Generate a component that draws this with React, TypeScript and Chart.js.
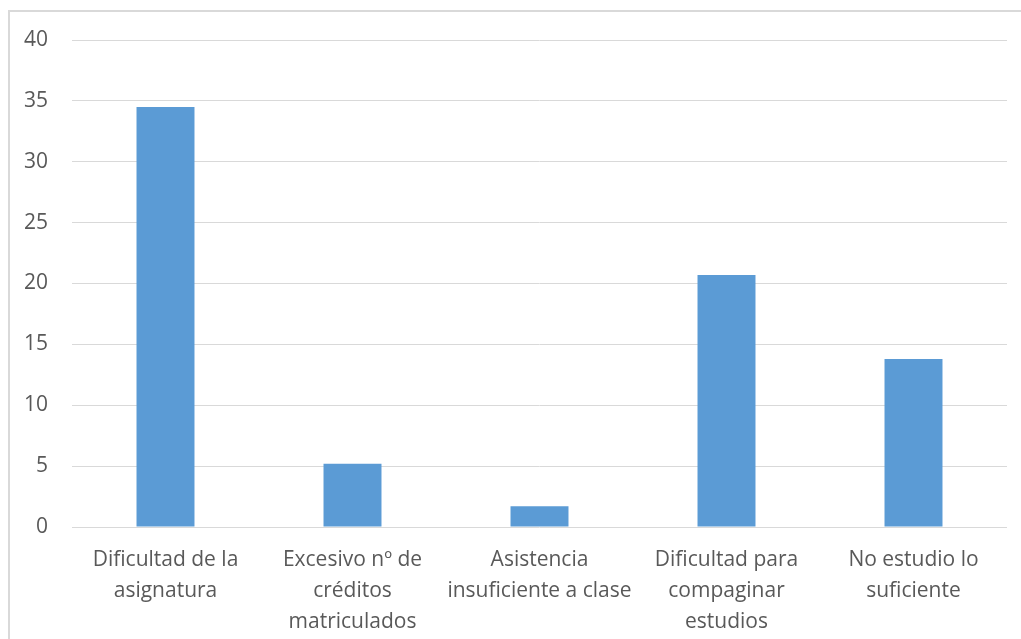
import React, { useEffect, useRef } from "react";
import { Chart, registerables } from "chart.js";

Chart.register(...registerables);

const categories: string[][] = [
  ["Dificultad de la", "asignatura"],
  ["Excesivo nº de", "créditos", "matriculados"],
  ["Asistencia", "insuficiente a clase"],
  ["Dificultad para", "compaginar", "estudios"],
  ["No estudio lo", "suficiente"],
];
const values: number[] = [34.5, 5.2, 1.7, 20.7, 13.8];
const yMin = 0;
const yMax = 40;
const yStep = 5;

export default function App() {
  const ref = useRef<HTMLCanvasElement | null>(null);
  useEffect(() => {
    if (!ref.current) return;
    const chart = new Chart(ref.current, {
      type: "bar",
      data: {
        labels: categories,
        datasets: [
          {
            data: values,
            backgroundColor: "#5B9BD5",
            borderWidth: 0,
            categoryPercentage: 1,
            barPercentage: 0.31,
          },
        ],
      },
      options: {
        animation: false,
        responsive: false,
        maintainAspectRatio: false,
        layout: { padding: { left: 10, top: 40, right: 14, bottom: 0 } },
        plugins: { legend: { display: false }, tooltip: { enabled: false } },
        scales: {
          x: {
            grid: { display: false, drawTicks: false },
            border: { display: false },
            ticks: {
              color: "#595959",
              font: { family: "Open Sans", size: 21, lineHeight: 1.476 },
              padding: 18,
              maxRotation: 0,
              autoSkip: false,
            },
            afterFit: (axis: any) => {
              axis.height = 112;
            },
          },
          y: {
            min: yMin,
            max: yMax,
            grid: { color: "#D9D9D9", lineWidth: 1, drawTicks: false },
            border: { display: false },
            ticks: {
              stepSize: yStep,
              color: "#595959",
              font: { family: "Open Sans", size: 21 },
              padding: 24,
            },
            afterFit: (axis: any) => {
              axis.width = 62;
            },
          },
        },
      },
    });
    return () => chart.destroy();
  }, []);
  return (
    <div style={{ position: "fixed", left: 0, top: 0, width: 1021, height: 639, background: "#fff", overflow: "hidden" }}>
      <div
        style={{
          position: "absolute",
          left: 8,
          top: 10,
          width: 1040,
          height: 660,
          border: "2px solid #D9D9D9",
          boxSizing: "border-box",
        }}
      />
      <canvas ref={ref} width={1021} height={639} style={{ position: "absolute", left: 0, top: 0 }} />
    </div>
  );
}
